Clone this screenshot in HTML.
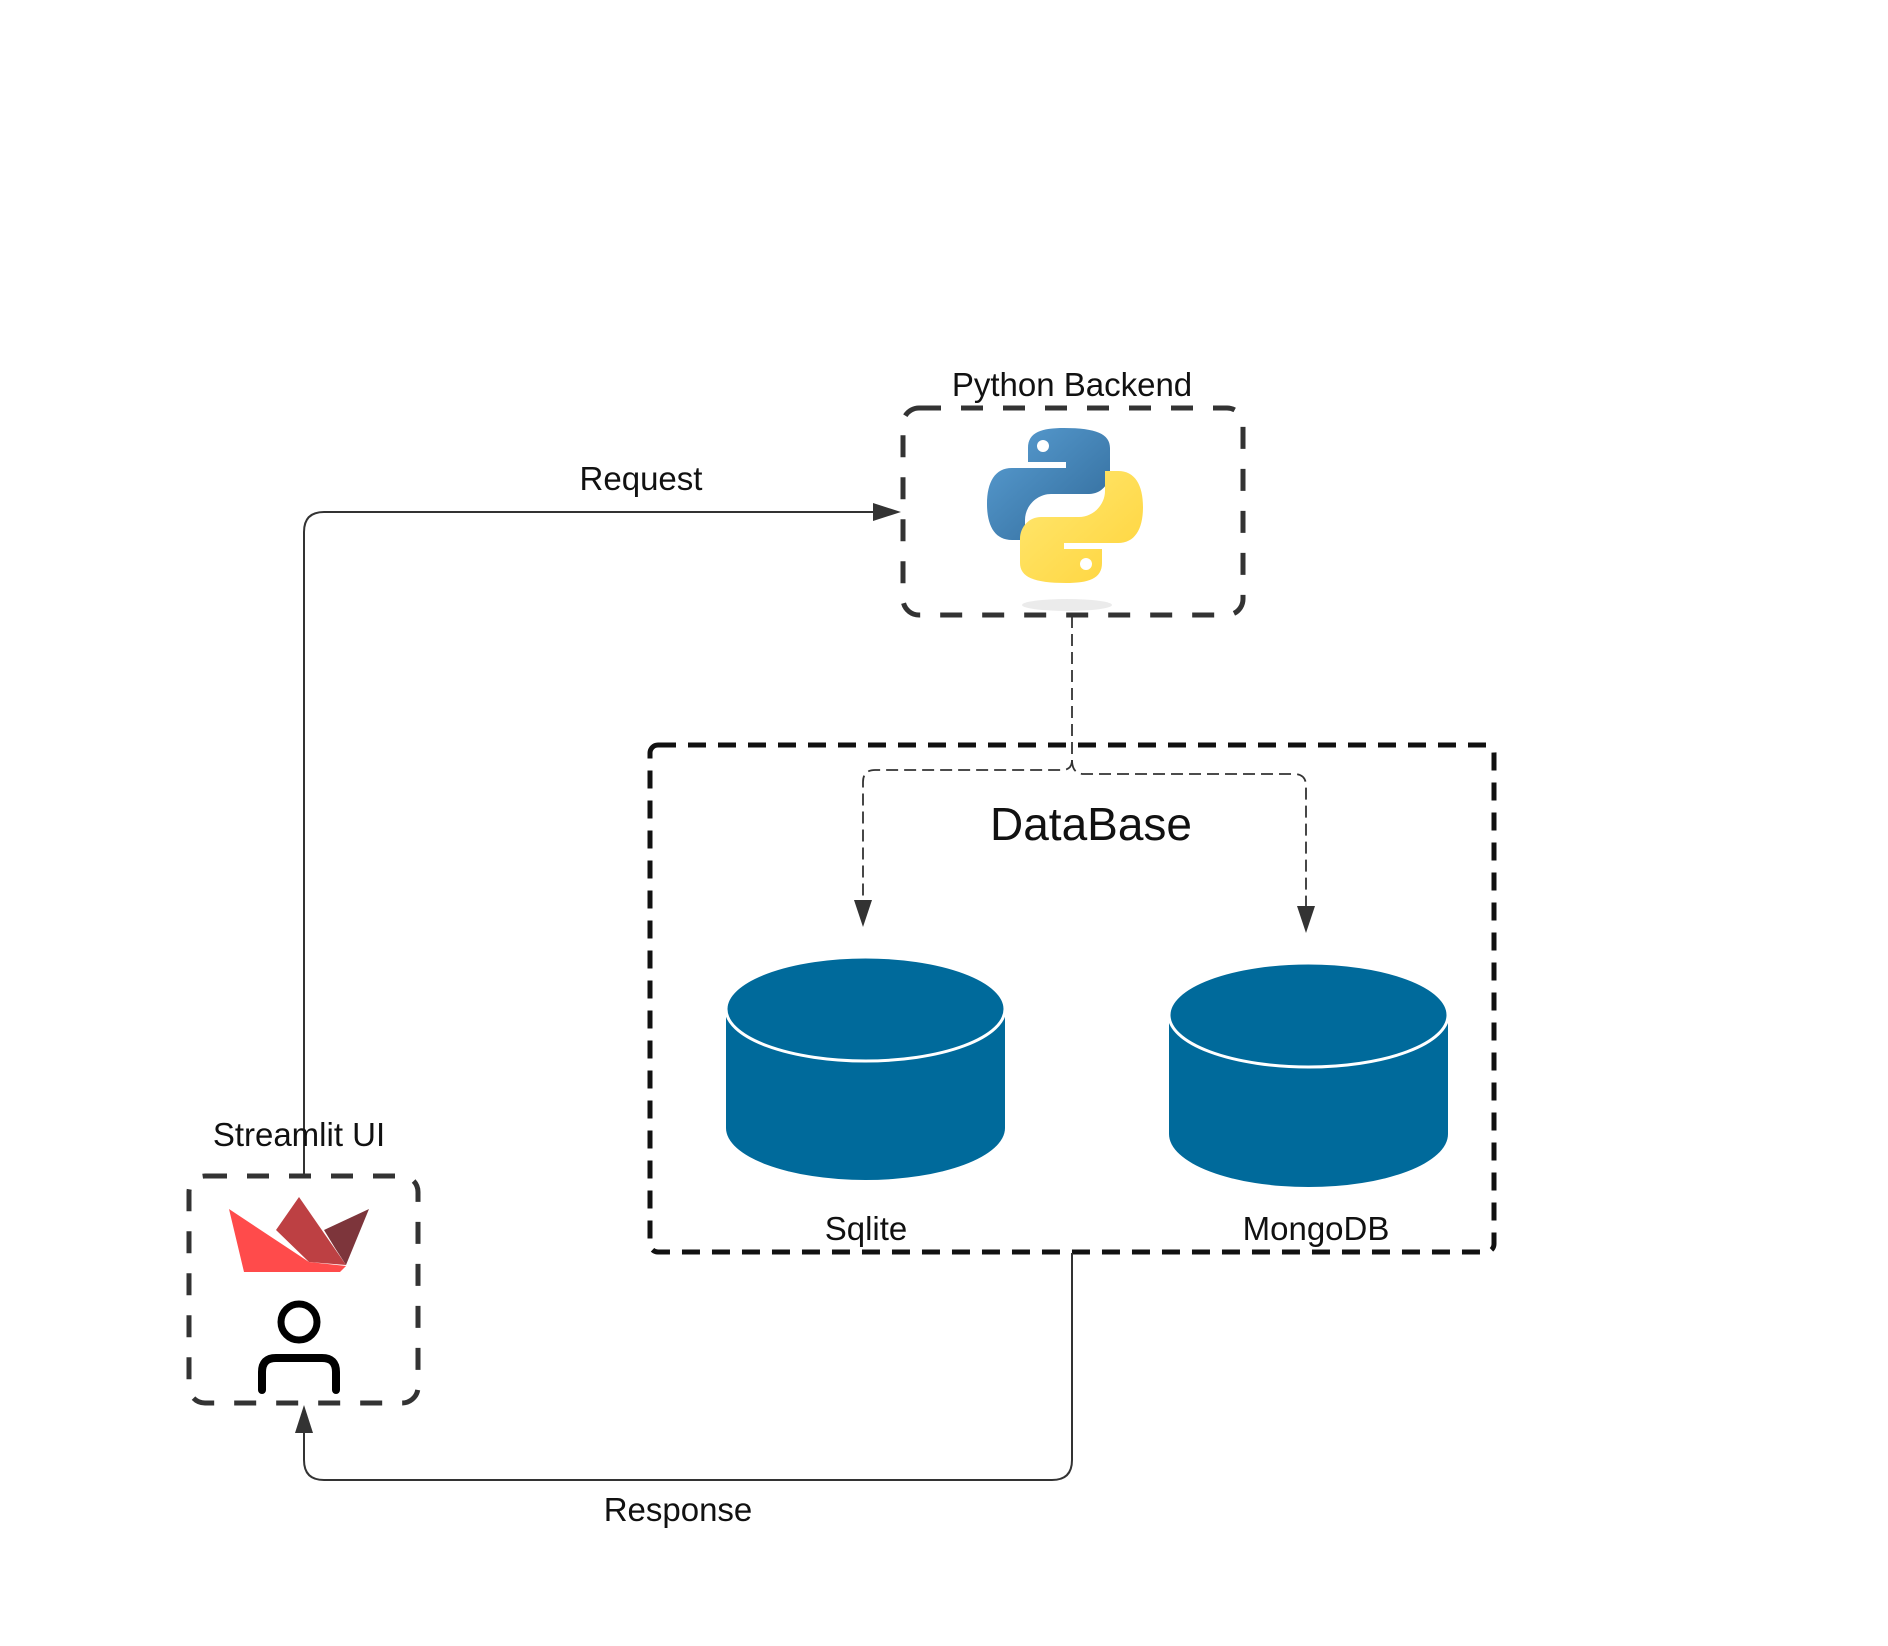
<!DOCTYPE html>
<html><head><meta charset="utf-8"><style>
html,body{margin:0;padding:0;background:#fff;}
svg{display:block;}
text{font-family:"Liberation Sans",sans-serif;fill:#111;}
</style></head><body>
<svg width="1888" height="1646" viewBox="0 0 1888 1646" xmlns="http://www.w3.org/2000/svg">
<defs>
<linearGradient id="gb" x1="0" y1="0" x2="1" y2="1"><stop offset="0" stop-color="#5a9fd4"/><stop offset="1" stop-color="#306998"/></linearGradient>
<linearGradient id="gy" x1="0" y1="0" x2="1" y2="1"><stop offset="0" stop-color="#ffe873"/><stop offset="1" stop-color="#ffd43b"/></linearGradient>
</defs>
<rect x="903" y="408" width="340" height="207" rx="16" fill="none" stroke="#333" stroke-width="5" stroke-dasharray="22 20"/>
<text x="1072" y="396" font-size="33" text-anchor="middle">Python Backend</text>
<ellipse cx="1067" cy="605" rx="45" ry="6" fill="#ddd" opacity="0.6"/>
<path d="M1064 428c-22 0-36 4-36 20v14h38v6h-54c-17 0-25 14-25 36s8 36 25 36h13v-20c0-14 12-26 26-26h38c12 0 21-10 21-22v-24c0-14-14-20-46-20z" fill="url(#gb)"/>
<circle cx="1043" cy="446" r="6" fill="#fff"/>
<path d="M1066 583c22 0 36-4 36-20v-14h-38v-6h54c17 0 25-14 25-36s-8-36-25-36h-13v20c0 14-12 26-26 26h-38c-12 0-21 10-21 22v24c0 14 14 20 46 20z" fill="url(#gy)"/>
<circle cx="1086" cy="564" r="6" fill="#fff"/>
<path d="M304 1176V532q0-20 20-20H880" fill="none" stroke="#333" stroke-width="2"/>
<polygon points="901,512 873,503 873,521" fill="#333"/>
<text x="641" y="490" font-size="33" text-anchor="middle">Request</text>
<rect x="189" y="1176" width="229" height="227" rx="16" fill="none" stroke="#333" stroke-width="5" stroke-dasharray="22 20"/>
<text x="299" y="1146" font-size="33" text-anchor="middle">Streamlit UI</text>
<polygon points="276,1230 299,1197 346,1265 309,1262" fill="#bd4043"/>
<polygon points="324,1230 369,1209 346,1265 335,1248" fill="#7d353b"/>
<polygon points="229,1209 309,1262 346,1266 340,1272 244,1272" fill="#ff4b4b"/>
<circle cx="299" cy="1322" r="18" fill="none" stroke="#000" stroke-width="7"/>
<path d="M262 1390v-18q0-14 14-14h46q14 0 14 14v18" fill="none" stroke="#000" stroke-width="8" stroke-linecap="round"/>
<rect x="650" y="745" width="844" height="507" rx="8" fill="none" stroke="#111" stroke-width="5" stroke-dasharray="18 12"/>
<text x="1091" y="840" font-size="46" text-anchor="middle">DataBase</text>
<path d="M1072 616V760q0 10-10 10H875q-12 0-12 12V910" fill="none" stroke="#333" stroke-width="1.8" stroke-dasharray="12 6"/>
<path d="M1072 760q0 14 12 14H1294q12 0 12 12V915" fill="none" stroke="#333" stroke-width="1.8" stroke-dasharray="12 6"/>
<polygon points="863,927 854,900 872,900" fill="#333"/>
<polygon points="1306,933 1297,906 1315,906" fill="#333"/>
<path d="M726 1009v119a139.5 52 0 0 0 279 0V1009z" fill="#006a9b"/>
<ellipse cx="865.5" cy="1009" rx="139.5" ry="52" fill="#006a9b" stroke="#fff" stroke-width="3"/>
<path d="M1169 1015v119a139.5 53 0 0 0 279 0V1015z" fill="#006a9b"/>
<ellipse cx="1308.5" cy="1015" rx="139.5" ry="52" fill="#006a9b" stroke="#fff" stroke-width="3"/>
<text x="866" y="1240" font-size="33" text-anchor="middle">Sqlite</text>
<text x="1316" y="1240" font-size="33" text-anchor="middle">MongoDB</text>
<path d="M1072 1253V1460q0 20-20 20H324q-20 0-20-20V1428" fill="none" stroke="#333" stroke-width="2"/>
<polygon points="304,1405 295,1433 313,1433" fill="#333"/>
<text x="678" y="1521" font-size="33" text-anchor="middle">Response</text>
</svg>
</body></html>
